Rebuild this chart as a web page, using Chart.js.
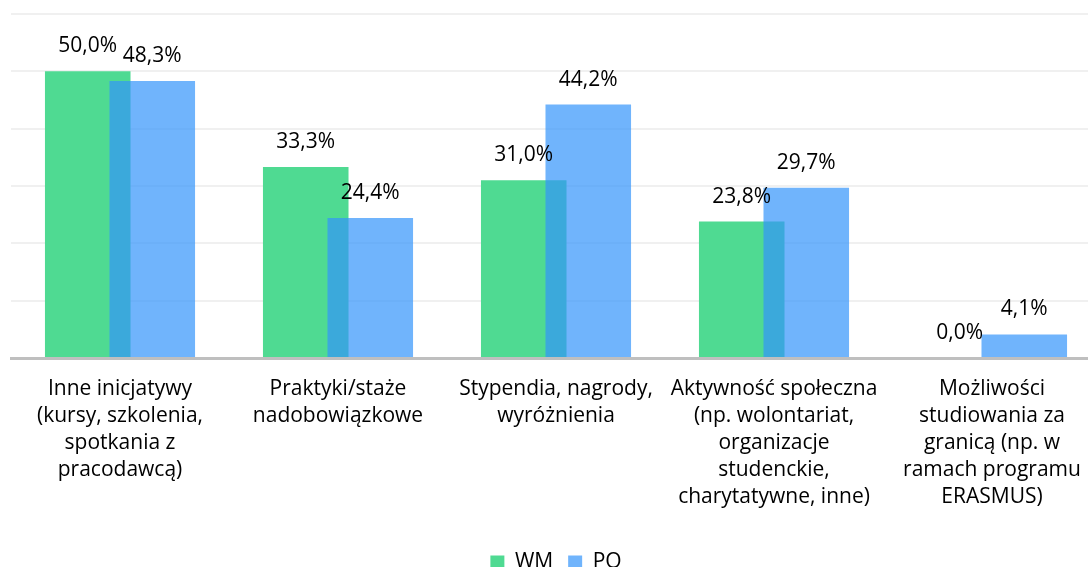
<!DOCTYPE html>
<html>
<head>
<meta charset="utf-8">
<script src="https://cdn.jsdelivr.net/npm/chart.js@4"></script>
<style>
  html, body { margin: 0; padding: 0; background: #fff; overflow: hidden; }
  #wrap { width: 1112px; height: 583px; position: relative; }
</style>
</head>
<body>
<div id="wrap"><canvas id="chart"></canvas></div>
<script>
// DATA
const categories = [
  ["Inne inicjatywy", "(kursy, szkolenia,", "spotkania z", "pracodawcą)"],
  ["Praktyki/staże", "nadobowiązkowe"],
  ["Stypendia, nagrody,", "wyróżnienia"],
  ["Aktywność społeczna", "(np. wolontariat,", "organizacje", "studenckie,", "charytatywne, inne)"],
  ["Możliwości", "studiowania za", "granicą (np. w", "ramach programu", "ERASMUS)"]
];
const wmValues = [50.0, 33.3, 31.0, 23.8, 0.0];
const poValues = [48.3, 24.4, 44.2, 29.7, 4.1];
const yTicks = [0, 10, 20, 30, 40, 50, 60];

const FONT = "'Open Sans', sans-serif";

// format 50 -> "50,0%"
const fmt = v => v.toFixed(1).replace(".", ",") + "%";

// value labels above bars (no datalabels plugin offline)
const valueLabels = {
  id: "valueLabels",
  afterDatasetsDraw(chart) {
    const ctx = chart.ctx;
    ctx.save();
    ctx.font = "21px " + FONT;
    ctx.fillStyle = "#000";
    ctx.textAlign = "center";
    ctx.textBaseline = "middle";
    chart.data.datasets.forEach((ds, i) => {
      chart.getDatasetMeta(i).data.forEach((bar, j) => {
        ctx.fillText(fmt(ds.data[j]), bar.x, bar.y - 25);
      });
    });
    ctx.restore();
  }
};

// Chart.js paints dataset 0 last (on top); we want PO over WM
const drawOrder = {
  id: "drawOrder",
  beforeDatasetDraw(chart, args) {
    if (args.index === 0) return false;
    if (args.index === 1) chart.getDatasetMeta(0).controller.draw();
  }
};

new Chart(document.getElementById("chart"), {
  type: "bar",
  data: {
    labels: categories,
    datasets: [
      {
        label: "WM",
        data: wmValues,
        backgroundColor: "#4fda92",
        borderWidth: 0,
        categoryPercentage: 0.592,
        barPercentage: 1.326
      },
      {
        label: "PO",
        data: poValues,
        backgroundColor: "rgba(51,148,251,0.7)",
        borderWidth: 0,
        categoryPercentage: 0.592,
        barPercentage: 1.326
      }
    ]
  },
  options: {
    responsive: true,
    maintainAspectRatio: false,
    animation: false,
    layout: { padding: { left: 11, right: 11, top: 14, bottom: 0 } },
    plugins: {
      legend: {
        position: "bottom",
        labels: {
          font: { family: FONT, size: 21 },
          color: "#000",
          boxWidth: 14,
          boxHeight: 14,
          padding: 15
        }
      },
      tooltip: { enabled: false }
    },
    scales: {
      x: {
        grid: { display: false },
        border: { color: "#bfbfbf", width: 3 },
        ticks: {
          color: "#000",
          font: { family: FONT, size: 21, lineHeight: 27 / 21 },
          maxRotation: 0,
          autoSkip: false,
          padding: 10
        },
        afterFit: axis => { axis.height += 16; }
      },
      y: {
        min: yTicks[0],
        max: yTicks[yTicks.length - 1],
        afterBuildTicks: axis => { axis.ticks = yTicks.map(v => ({ value: v })); },
        ticks: { display: false },
        border: { display: false },
        grid: { color: "#f0f0f0", lineWidth: 2, drawTicks: false }
      }
    }
  },
  plugins: [drawOrder, valueLabels]
});
</script>
</body>
</html>
